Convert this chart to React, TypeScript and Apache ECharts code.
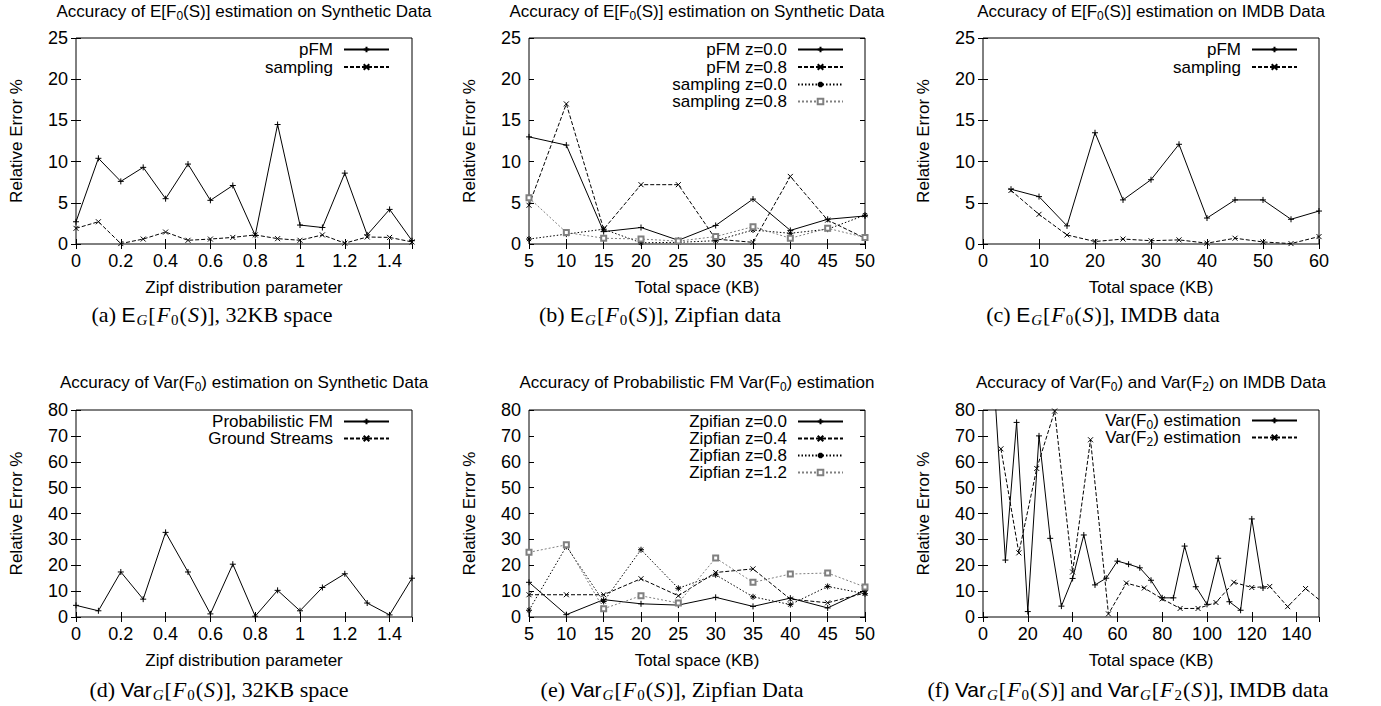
import React, { useEffect, useRef } from "react";
import * as echarts from "echarts";

// ---------------- data ----------------
const zipfParams = [0, 0.1, 0.2, 0.3, 0.4, 0.5, 0.6, 0.7, 0.8, 0.9, 1.0, 1.1, 1.2, 1.3, 1.4, 1.5];
const aPfm = [2.7, 10.4, 7.6, 9.3, 5.5, 9.7, 5.3, 7.1, 1.05, 14.5, 2.3, 2.0, 8.6, 1.1, 4.2, 0.4];
const aSampling = [1.9, 2.7, 0.05, 0.6, 1.45, 0.45, 0.6, 0.8, 1.1, 0.65, 0.45, 1.1, 0.1, 0.85, 0.8, 0.25];

const spaceKB = [5, 10, 15, 20, 25, 30, 35, 40, 45, 50];
const bPfmZ00 = [13.0, 12.0, 1.5, 2.0, 0.45, 2.25, 5.45, 1.65, 3.0, 3.4];
const bPfmZ08 = [4.7, 17.0, 1.8, 7.2, 7.2, 0.6, 0.2, 8.2, 2.9, 0.7];
const bSampZ00 = [0.6, 1.2, 1.8, 0.15, 0.2, 0.4, 1.7, 1.3, 1.8, 3.5];
const bSampZ08 = [5.6, 1.4, 0.7, 0.6, 0.35, 0.9, 2.1, 0.7, 1.9, 0.8];

const imdbKB = [5, 10, 15, 20, 25, 30, 35, 40, 45, 50, 55, 60];
const cPfm = [6.65, 5.75, 2.2, 13.5, 5.35, 7.8, 12.1, 3.15, 5.35, 5.35, 3.0, 4.0];
const cSampling = [6.5, 3.6, 1.1, 0.3, 0.6, 0.4, 0.5, 0.1, 0.7, 0.25, 0.05, 0.9];

const dProbFM = [4.5, 2.4, 17.4, 6.9, 32.7, 17.4, 1.2, 20.4, 0.3, 10.3, 2.4, 11.4, 16.7, 5.4, 0.8, 15.0];
const dGround: number[] = [];

const eZ00 = [13.4, 0.9, 6.7, 5.1, 4.6, 7.6, 4.1, 7.3, 3.5, 10.3];
const eZ04 = [8.6, 8.6, 8.6, 14.8, 8.2, 17.2, 18.6, 6.9, 5.5, 9.3];
const eZ08 = [2.6, 27.3, 6.0, 26.0, 11.1, 16.3, 7.8, 4.8, 11.8, 9.0];
const eZ12 = [25.0, 27.9, 3.2, 8.2, 5.4, 22.8, 13.4, 16.6, 17.0, 11.6];

const fSpaceF0 = [5, 10, 15, 20, 25, 30, 35, 40, 45, 50, 55, 60, 65, 70, 75, 80, 85, 90, 95, 100, 105, 110, 115, 120, 125];
const fVarF0 = [90, 22, 75.2, 2.1, 70, 30.4, 4.2, 14.9, 31.7, 12.4, 15, 21.6, 20.4, 19, 14.2, 7.4, 7.4, 27.4, 11.7, 4.9, 22.7, 5.9, 2.6, 37.9, 11.2];
const fSpaceF2 = [8, 16, 24, 32, 40, 48, 56, 64, 72, 80, 88, 96, 104, 112, 120, 128, 136, 144, 152];
const fVarF2 = [65, 24.8, 57.4, 79.6, 17.4, 68.5, 1.2, 13.1, 11.2, 7, 3.3, 3.3, 5.6, 13.4, 11.4, 11.8, 4.0, 11, 5.3];

// axis ranges [min, max, interval]
const xRanges = [[0, 1.5, 0.2], [5, 50, 5], [0, 60, 10], [0, 1.5, 0.2], [5, 50, 5], [0, 150, 20]];
const yRanges = [[0, 25, 5], [0, 25, 5], [0, 25, 5], [0, 80, 10], [0, 80, 10], [0, 80, 10]];
const xNames = ["Zipf distribution parameter", "Total space (KB)", "Total space (KB)", "Zipf distribution parameter", "Total space (KB)", "Total space (KB)"];
const showMaxX = [false, true, true, false, true, false];

const titles = [
  "{tn|Accuracy of E[F}{ts|0}{tn|(S)] estimation on Synthetic Data}",
  "{tn|Accuracy of E[F}{ts|0}{tn|(S)] estimation on Synthetic Data}",
  "{tn|Accuracy of E[F}{ts|0}{tn|(S)] estimation on IMDB Data}",
  "{tn|Accuracy of Var(F}{ts|0}{tn|) estimation on Synthetic Data}",
  "{tn|Accuracy of Probabilistic FM Var(F}{ts|0}{tn|) estimation}",
  "{tn|Accuracy of Var(F}{ts|0}{tn|) and Var(F}{ts|2}{tn|) on IMDB Data}",
];
const captions = [
  "{n|(a) }{sf|E}{subit|G}{n|[}{it|F}{sub|0}{n|(}{it|S}{n|)], 32KB space}",
  "{n|(b) }{sf|E}{subit|G}{n|[}{it|F}{sub|0}{n|(}{it|S}{n|)], Zipfian data}",
  "{n|(c) }{sf|E}{subit|G}{n|[}{it|F}{sub|0}{n|(}{it|S}{n|)], IMDB data}",
  "{n|(d) }{sf|Var}{subit|G}{n|[}{it|F}{sub|0}{n|(}{it|S}{n|)], 32KB space}",
  "{n|(e) }{sf|Var}{subit|G}{n|[}{it|F}{sub|0}{n|(}{it|S}{n|)], Zipfian Data}",
  "{n|(f) }{sf|Var}{subit|G}{n|[}{it|F}{sub|0}{n|(}{it|S}{n|)] and }{sf|Var}{subit|G}{n|[}{it|F}{sub|2}{n|(}{it|S}{n|)], IMDB data}",
];

// ---------------- layout / style ----------------
const FONT = "'Liberation Sans', Arial, Helvetica, sans-serif";
const SERIF = "'Liberation Serif', 'Times New Roman', serif";

const GRIDS = [
  { left: 76, top: 38, width: 336, height: 206 },
  { left: 529, top: 38, width: 336, height: 206 },
  { left: 983, top: 38, width: 336, height: 206 },
  { left: 76, top: 410, width: 336, height: 207 },
  { left: 529, top: 410, width: 336, height: 207 },
  { left: 983, top: 410, width: 336, height: 207 },
];
const titlePos = [[244, 11], [697, 11], [1151, 11], [244, 382], [697, 382], [1151, 382]];
const captionPos = [[212, 314], [660, 314], [1103, 314], [219, 689], [672, 689], [1128, 689]];

const SYM_PLUS = "path://M0,5L10,5M5,0L5,10";
const SYM_CROSS = "path://M1,1L9,9M1,9L9,1";
const SYM_STAR = "path://M0,5L10,5M5,0L5,10M1.5,1.5L8.5,8.5M1.5,8.5L8.5,1.5";

type Sty = { color: string; dash: any; symbol: string; size: number };
const S1: Sty = { color: "#000", dash: "solid", symbol: SYM_PLUS, size: 6 };
const S2: Sty = { color: "#000", dash: [4, 2], symbol: SYM_CROSS, size: 5 };
const S3: Sty = { color: "#000", dash: [1.5, 2], symbol: SYM_STAR, size: 6 };
const S4: Sty = { color: "#808080", dash: [2, 2], symbol: "emptyRect", size: 5 };

const pairs = (xs: number[], ys: number[]) => xs.map((x, i) => [x, ys[i]]);

function mkSeries(name: string, g: number, data: number[][], s: Sty) {
  return {
    type: "line",
    name,
    xAxisIndex: g * 2,
    yAxisIndex: g * 2,
    data,
    symbol: s.symbol,
    symbolSize: s.size,
    showSymbol: true,
    showAllSymbol: true,
    clip: true,
    silent: true,
    lineStyle: { color: s.color, width: 1, type: s.dash },
    itemStyle: { color: s.color, borderColor: s.color, borderWidth: 1 },
    emphasis: { disabled: true },
  };
}

const legRich = {
  ln: { fontFamily: FONT, fontSize: 17, color: "#000" },
  ls: { fontFamily: FONT, fontSize: 12, color: "#000", padding: [9, 0, 0, 0] },
};
const legFmt = (name: string) => {
  if (name === "Var(F0) estimation") return "{ln|Var(F}{ls|0}{ln|) estimation}";
  if (name === "Var(F2) estimation") return "{ln|Var(F}{ls|2}{ln|) estimation}";
  return name;
};
function mkLegends(names: string[], right: number, centers: number[]) {
  return names.map((nm, k) => ({
    data: [nm],
    right,
    top: centers[k] - 10,
    orient: "horizontal",
    align: "right",
    padding: 0,
    itemWidth: 45,
    itemHeight: 7,
    selectedMode: false,
    formatter: legFmt,
    textStyle: { fontFamily: FONT, fontSize: 17, color: "#000", rich: legRich, padding: [0, 6, 0, 0] },
  }));
}

export default function App() {
  const ref = useRef<HTMLDivElement>(null);
  useEffect(() => {
    if (!ref.current) return;
    const chart = echarts.init(ref.current, null, { renderer: "svg" });

    const tick = { inside: true, length: 5, lineStyle: { color: "#000", width: 1 } };
    const xAxis: any[] = [];
    const yAxis: any[] = [];
    GRIDS.forEach((_, i) => {
      const [xmin, xmax, xint] = xRanges[i];
      const [ymin, ymax, yint] = yRanges[i];
      const xc = { type: "value", gridIndex: i, min: xmin, max: xmax, interval: xint, splitLine: { show: false }, axisLine: { show: false }, axisTick: tick };
      xAxis.push({
        ...xc,
        position: "bottom",
        name: xNames[i],
        nameLocation: "middle",
        nameGap: 35,
        nameTextStyle: { fontFamily: FONT, fontSize: 17, color: "#000" },
        axisLabel: { margin: 8, fontFamily: FONT, fontSize: 18, color: "#000", showMaxLabel: showMaxX[i] },
      });
      xAxis.push({ ...xc, position: "top", axisLabel: { show: false } });
      const yc = { type: "value", gridIndex: i, min: ymin, max: ymax, interval: yint, splitLine: { show: false }, axisLine: { show: false }, axisTick: tick };
      yAxis.push({
        ...yc,
        position: "left",
        name: "Relative Error %",
        nameLocation: "middle",
        nameRotate: 90,
        nameGap: 51,
        nameTextStyle: { fontFamily: FONT, fontSize: 17, color: "#000" },
        axisLabel: { margin: 8, fontFamily: FONT, fontSize: 18, color: "#000" },
      });
      yAxis.push({ ...yc, position: "right", axisLabel: { show: false } });
    });

    const series = [
      mkSeries("pFM", 0, pairs(zipfParams, aPfm), S1),
      mkSeries("sampling", 0, pairs(zipfParams, aSampling), S2),
      mkSeries("pFM z=0.0", 1, pairs(spaceKB, bPfmZ00), S1),
      mkSeries("pFM z=0.8", 1, pairs(spaceKB, bPfmZ08), S2),
      mkSeries("sampling z=0.0", 1, pairs(spaceKB, bSampZ00), S3),
      mkSeries("sampling z=0.8", 1, pairs(spaceKB, bSampZ08), S4),
      mkSeries("pFM", 2, pairs(imdbKB, cPfm), S1),
      mkSeries("sampling", 2, pairs(imdbKB, cSampling), S2),
      mkSeries("Probabilistic FM", 3, pairs(zipfParams, dProbFM), S1),
      mkSeries("Ground Streams", 3, pairs(zipfParams, dGround), S2),
      mkSeries("Zpifian z=0.0", 4, pairs(spaceKB, eZ00), S1),
      mkSeries("Zipfian z=0.4", 4, pairs(spaceKB, eZ04), S2),
      mkSeries("Zipfian z=0.8", 4, pairs(spaceKB, eZ08), S3),
      mkSeries("Zipfian z=1.2", 4, pairs(spaceKB, eZ12), S4),
      mkSeries("Var(F0) estimation", 5, pairs(fSpaceF0, fVarF0), S1),
      mkSeries("Var(F2) estimation", 5, pairs(fSpaceF2, fVarF2), S2),
    ];

    const legend = [
      ...mkLegends(["pFM", "sampling"], 991, [51, 68.5]),
      ...mkLegends(["pFM z=0.0", "pFM z=0.8", "sampling z=0.0", "sampling z=0.8"], 537, [51, 68.5, 86, 103]),
      ...mkLegends(["pFM", "sampling"], 83, [51, 68.5]),
      ...mkLegends(["Probabilistic FM", "Ground Streams"], 991, [423, 440]),
      ...mkLegends(["Zpifian z=0.0", "Zipfian z=0.4", "Zipfian z=0.8", "Zipfian z=1.2"], 537, [423, 440, 457, 474]),
      ...mkLegends(["Var(F0) estimation", "Var(F2) estimation"], 83, [422, 439]),
    ];

    const titleRich = {
      tn: { fontFamily: FONT, fontSize: 17, fill: "#000" },
      ts: { fontFamily: FONT, fontSize: 12, fill: "#000", padding: [9, 0, 0, 0] },
    };
    const capRich = {
      n: { fontFamily: SERIF, fontSize: 22, fill: "#000" },
      sf: { fontFamily: FONT, fontSize: 21, fill: "#000" },
      it: { fontFamily: SERIF, fontSize: 22, fontStyle: "italic", fill: "#000", padding: [0, 1, 0, 1] },
      sub: { fontFamily: SERIF, fontSize: 15, fill: "#000", padding: [12, 1, 0, 0] },
      subit: { fontFamily: SERIF, fontSize: 15, fontStyle: "italic", fill: "#000", padding: [12, 1, 0, 1] },
    };
    const graphic: any[] = [];
    titles.forEach((t, i) => {
      graphic.push({
        type: "text",
        x: titlePos[i][0],
        y: titlePos[i][1],
        silent: true,
        style: { text: t, rich: titleRich, align: "center", verticalAlign: "middle", fill: "#000", fontFamily: FONT, fontSize: 17 },
      });
    });
    captions.forEach((t, i) => {
      graphic.push({
        type: "text",
        x: captionPos[i][0],
        y: captionPos[i][1],
        silent: true,
        style: { text: t, rich: capRich, align: "center", verticalAlign: "middle", fill: "#000", fontFamily: SERIF, fontSize: 22 },
      });
    });

    chart.setOption({
      animation: false,
      backgroundColor: "#fff",
      grid: GRIDS.map((g) => ({ ...g, show: true, borderColor: "#000", borderWidth: 1, backgroundColor: "transparent" })),
      xAxis,
      yAxis,
      legend,
      series,
      graphic,
    });
    return () => chart.dispose();
  }, []);
  return <div ref={ref} style={{ position: "fixed", left: 0, top: 0, width: 1381, height: 706, background: "#fff" }} />;
}
